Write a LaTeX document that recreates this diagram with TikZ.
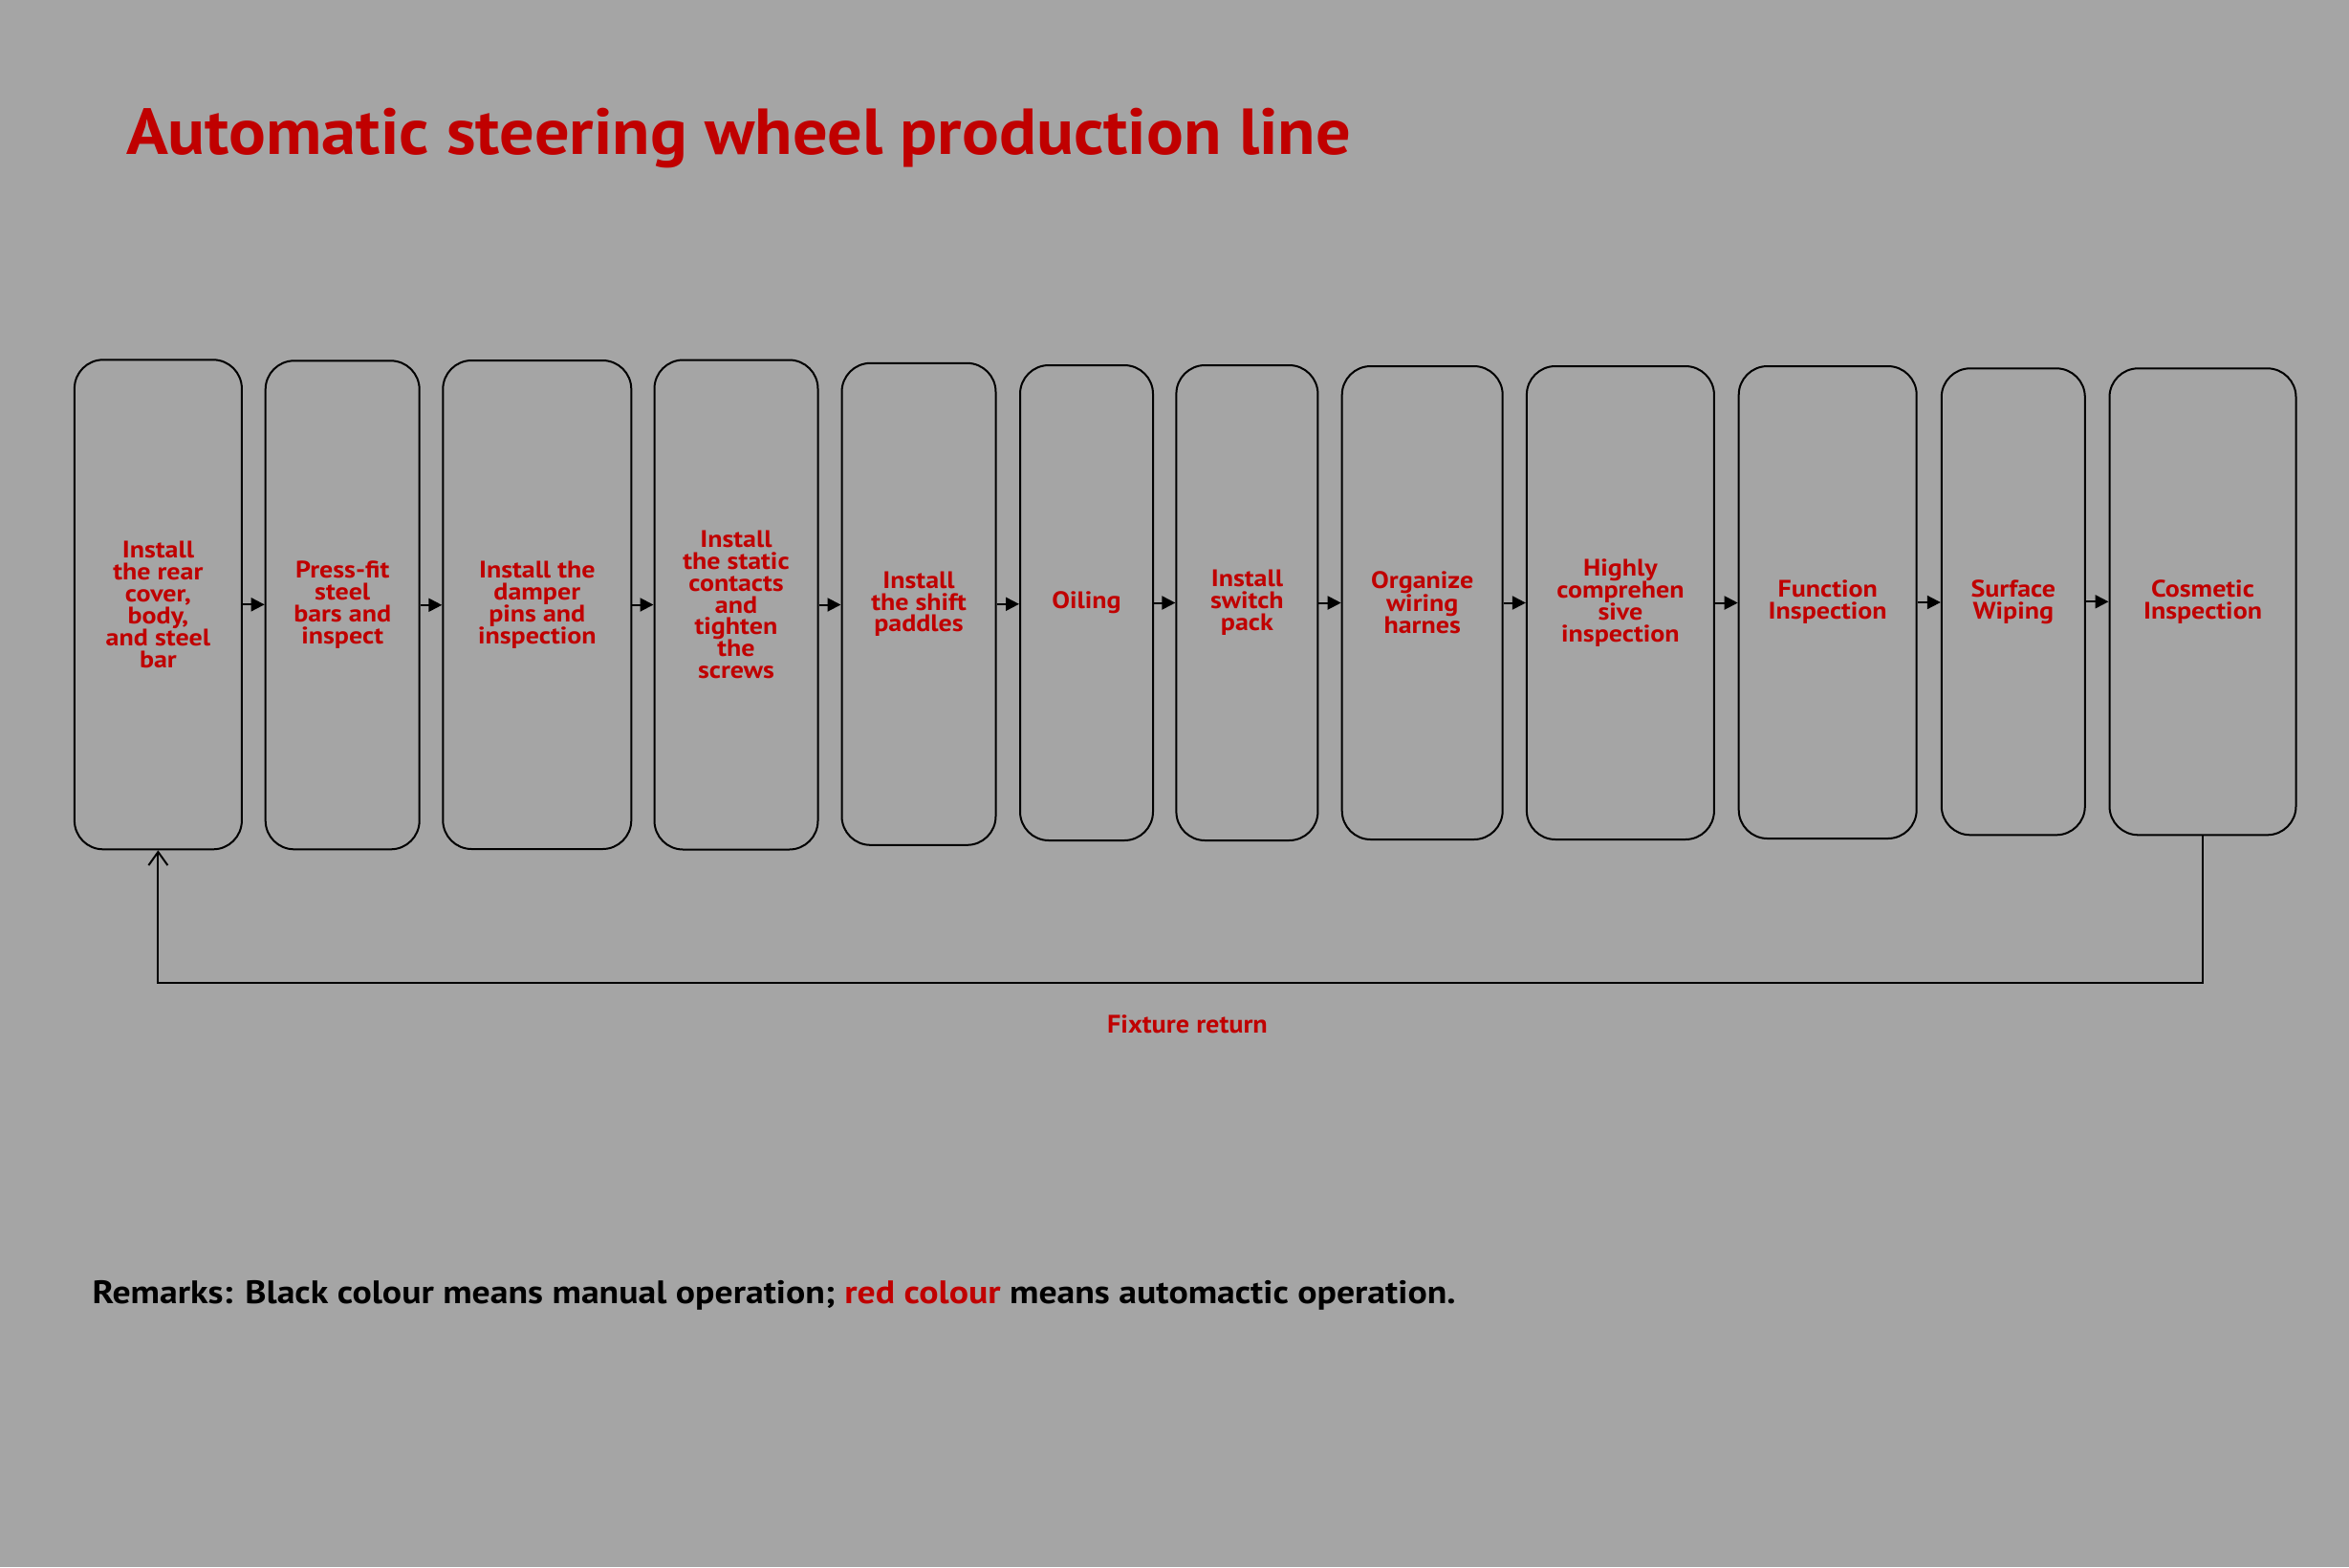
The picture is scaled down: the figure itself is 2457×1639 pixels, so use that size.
\documentclass[tikz,border=0pt]{standalone}
\usepackage{fontspec}
\setmainfont{PT Sans}
\newfontfamily\titlefont{PT Sans}[FakeStretch=1.065]
\newfontfamily\stationfont{PT Sans}[FakeStretch=1.12]
\newfontfamily\remarkfont{PT Sans}[FakeStretch=1.11]
\usetikzlibrary{arrows.meta, positioning}
\definecolor{autored}{RGB}{192,0,0}
\definecolor{bggray}{RGB}{165,165,165}

\begin{document}
\begin{tikzpicture}[x=1pt, y=-1pt,
    station/.style={draw, line width=2pt, rounded corners=30pt, align=center, text=autored,
      font=\stationfont\bfseries\fontsize{25}{22.9}\selectfont},
    flow/.style={-{Triangle[length=14pt,width=14pt]}, line width=2pt}]
        % Background
        \fill[bggray] (0,0) rectangle (2457,1639);
        \useasboundingbox (0,0) rectangle (2457,1639);

        % Title
        \node[anchor=base west, inner sep=0, text=autored, font=\titlefont\bfseries\fontsize{68}{72}\selectfont]
          (title) at (131.8,161.7) {Automatic steering wheel production line};

        % Stations
        \node[station, minimum width=175pt, minimum height=512pt] (s1) at (165.4,632.3)
          {Install\\the rear\\cover,\\body,\\and steel\\bar};
        \node[station, minimum width=161pt, minimum height=511pt] (s2) at (358.2,632.8)
          {Press-fit\\steel\\bars and\\inspect};
        \node[station, minimum width=197pt, minimum height=511pt] (s3) at (561.8,632.5)
          {Install the\\damper\\pins and\\inspection};
        \node[station, minimum width=171pt, minimum height=512pt] (s4) at (770,632.5)
          {Install\\the static\\contacts\\and\\tighten\\the\\screws};
        \node[station, minimum width=161pt, minimum height=504pt] (s5) at (961,631.8)
          {Install\\the shift\\paddles};
        \node[station, minimum width=139pt, minimum height=497pt] (s6) at (1136.5,630.5)
          {Oiling};
        \node[station, minimum width=148pt, minimum height=497pt] (s7) at (1304.4,630.5)
          {Install\\switch\\pack};
        \node[station, minimum width=168pt, minimum height=495pt] (s8) at (1487.7,630.5)
          {Organize\\wiring\\harnes};
        \node[station, minimum width=196pt, minimum height=495pt] (s9) at (1694.9,630.5)
          {Highly\\comprehen\\sive\\inspection};
        \node[station, minimum width=186pt, minimum height=494pt] (s10) at (1911.7,630)
          {Function\\Inspection};
        \node[station, minimum width=150pt, minimum height=488pt] (s11) at (2105.8,629.3)
          {Surface\\Wiping};
        \node[station, minimum width=195pt, minimum height=488pt] (s12) at (2304,629.3)
          {Cosmetic\\Inspection};

        % Flow between stations
        \foreach \a/\b in {s1/s2, s2/s3, s3/s4, s4/s5, s5/s6, s6/s7, s7/s8, s8/s9, s9/s10, s10/s11, s11/s12}
          \draw[flow] (\a.east) -- (\a.east -| \b.west);

        % Fixture return
        \draw[line width=2pt, -{Straight Barb[length=14pt,width=20pt]}] (s12.south) -- ++(0,154) -| (s1.south);
        \node[anchor=base, inner sep=0, text=autored, font=\titlefont\bfseries\fontsize{26.5}{28}\selectfont]
          (ret) at (1242,1080) {Fixture return};

        % Remarks
        \node[anchor=base west, inner sep=0, font=\remarkfont\bfseries\fontsize{34}{36}\selectfont] (remark) at (96.4,1363)
          {Remarks: Black colour means manual operation; \textcolor{autored}{red colour} means automactic operation.};
      \end{tikzpicture}
\end{document}
